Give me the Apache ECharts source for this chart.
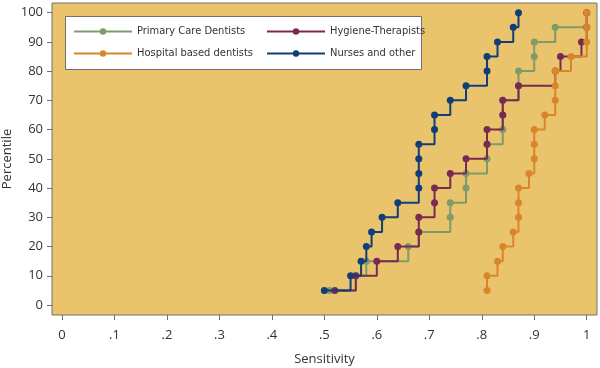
<!DOCTYPE html>
<html>
<head>
<meta charset="utf-8">
<script src="https://cdn.jsdelivr.net/npm/echarts@6/dist/echarts.min.js"></script>
<style>
html,body{margin:0;padding:0;background:#fff;}
#chart{width:600px;height:368px;}
</style>
</head>
<body>
<div id="chart"></div>
<script>
var percentiles = [5,10,15,20,25,30,35,40,45,50,55,60,65,70,75,80,85,90,95,100];
var primaryCare = [0.51,0.56,0.58,0.66,0.68,0.74,0.74,0.77,0.77,0.81,0.81,0.84,0.84,0.84,0.87,0.87,0.90,0.90,0.94,1.00];
var hygiene     = [0.52,0.56,0.60,0.64,0.68,0.68,0.71,0.71,0.74,0.77,0.81,0.81,0.84,0.84,0.87,0.94,0.95,0.99,1.00,1.00];
var nurses      = [0.50,0.55,0.57,0.58,0.59,0.61,0.64,0.68,0.68,0.68,0.68,0.71,0.71,0.74,0.77,0.81,0.81,0.83,0.86,0.87];
var hospital    = [0.81,0.81,0.83,0.84,0.86,0.87,0.87,0.87,0.89,0.90,0.90,0.90,0.92,0.94,0.94,0.94,0.97,1.00,1.00,1.00];
var xTicks = [0,0.1,0.2,0.3,0.4,0.5,0.6,0.7,0.8,0.9,1];
var xTickLabels = ['0','.1','.2','.3','.4','.5','.6','.7','.8','.9','1'];
var yTicks = [0,10,20,30,40,50,60,70,80,90,100];
var seriesNames = ['Primary Care Dentists','Hygiene-Therapists','Hospital based dentists','Nurses and other'];

var colors = {
  'Primary Care Dentists':'#7f9b68',
  'Hygiene-Therapists':'#782a50',
  'Hospital based dentists':'#d9862b',
  'Nurses and other':'#123d78'
};
function pairs(xs){ return xs.map(function(x,i){ return [x, percentiles[i]]; }); }
function mk(name, xs, z){
  return {
    name:name, type:'line', step:'end', data:pairs(xs), z:z,
    symbol:'circle', symbolSize:7, showSymbol:true,
    lineStyle:{color:colors[name], width:2},
    itemStyle:{color:colors[name]},
    emphasis:{disabled:true},
    animation:false
  };
}
var font = "'DejaVu Sans Condensed','Roboto',sans-serif";
var axisFont = "'Open Sans',sans-serif";
var chart = echarts.init(document.getElementById('chart'));
chart.setOption({
  animation:false,
  backgroundColor:'#ffffff',
  grid:{left:52,right:3,top:3,bottom:53,outerBoundsMode:'none',containLabel:false,show:true,backgroundColor:'#e9c46c',borderColor:'#707070',borderWidth:1},
  graphic:[{type:'rect',z:3,shape:{x:65.5,y:16.5,width:356,height:53},style:{fill:'#ffffff',stroke:'#707070',lineWidth:1}}],
  legend:[
    {data:[seriesNames[0],seriesNames[2]],orient:'vertical',left:73,top:26,padding:0,itemWidth:58,itemHeight:8,itemGap:11,z:5,
     textStyle:{fontFamily:font,fontSize:11,color:'#333'}},
    {data:[seriesNames[1],seriesNames[3]],orient:'vertical',left:266,top:26,padding:0,itemWidth:58,itemHeight:8,itemGap:11,z:5,
     textStyle:{fontFamily:font,fontSize:11,color:'#333'}}
  ],
  xAxis:{
    type:'value', min:-0.019, max:1.0196,
    name:'Sensitivity', nameLocation:'middle', nameGap:38,
    nameTextStyle:{fontFamily:axisFont,fontSize:13,color:'#333'},
    axisLine:{show:false,onZero:false},
    axisTick:{show:true,length:5,customValues:xTicks,lineStyle:{color:'#707070'}},
    axisLabel:{customValues:xTicks,margin:14,fontFamily:axisFont,fontSize:13,color:'#333',
      formatter:function(v){ for(var i=0;i<xTicks.length;i++){ if(Math.abs(xTicks[i]-v)<1e-6) return xTickLabels[i]; } return ''; }},
    splitLine:{show:false}
  },
  yAxis:{
    type:'value', min:-3.42, max:103.3,
    name:'Percentile', nameLocation:'middle', nameGap:38, nameMoveOverlap:false,
    nameTextStyle:{fontFamily:axisFont,fontSize:13,color:'#333'},
    axisLine:{show:false,onZero:false},
    axisTick:{show:true,length:5,customValues:yTicks,lineStyle:{color:'#707070'}},
    axisLabel:{customValues:yTicks,margin:9,fontFamily:axisFont,fontSize:13,color:'#333'},
    splitLine:{show:false}
  },
  series:[
    mk(seriesNames[0], primaryCare, 2),
    mk(seriesNames[1], hygiene, 3),
    mk(seriesNames[3], nurses, 4),
    mk(seriesNames[2], hospital, 5)
  ]
});
</script>
</body>
</html>
